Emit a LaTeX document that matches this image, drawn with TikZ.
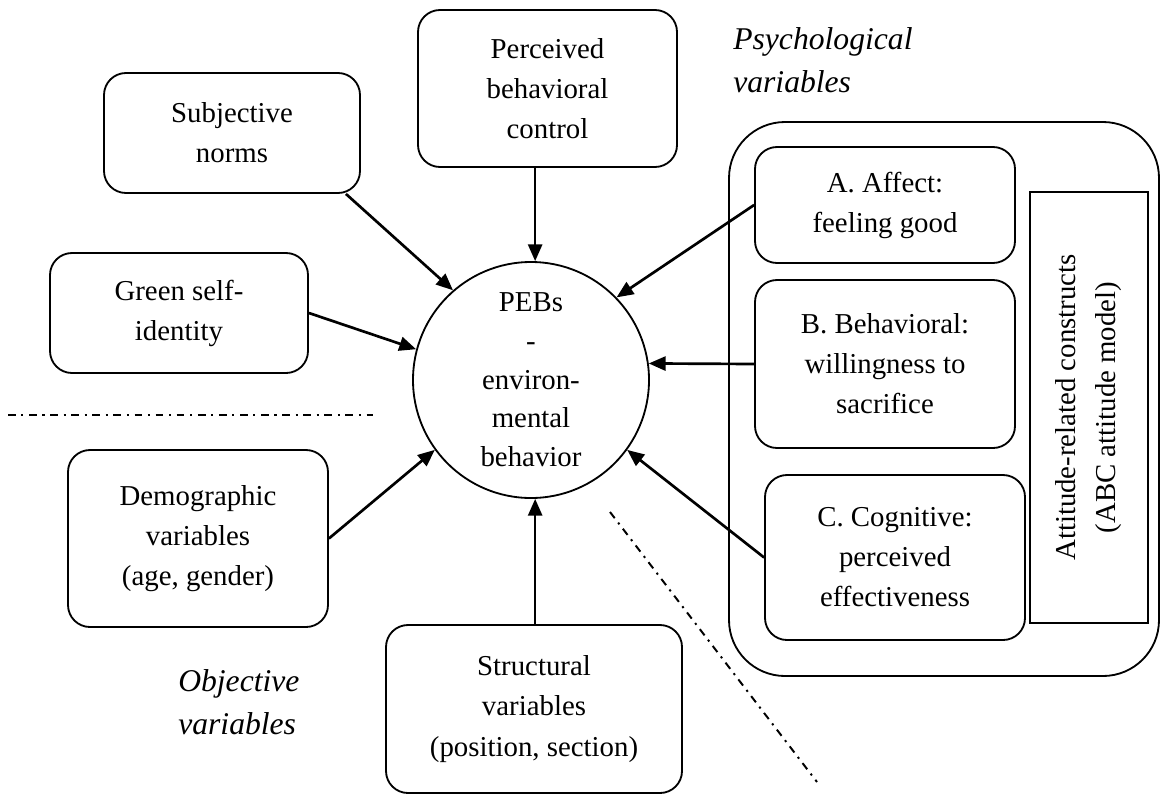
\documentclass[tikz,border=0pt]{standalone}
\usepackage{fontspec}
\setmainfont{Liberation Serif}
\usetikzlibrary{arrows.meta, calc}
\def\px{0.025cm}

\begin{document}
\begin{tikzpicture}[x=\px, y=-\px, >={Triangle[length=12pt,width=10pt]}]

			\tikzstyle{box}=[rectangle, rounded corners=0.55cm, draw=black, line width=1.3pt, inner sep=0pt, align=center, font=\fontsize{20.5}{28.5}\selectfont]
			\tikzstyle{group}=[rectangle, rounded corners=1.4cm, draw=black, line width=1.3pt, inner sep=0pt]
			\tikzstyle{abc}=[rectangle, draw=black, line width=1.3pt, inner sep=0pt, align=center, rotate=90, font=\fontsize{20.5}{28.5}\selectfont]
			\tikzstyle{behav}=[circle, draw=black, line width=1.3pt, inner sep=0pt, align=center, minimum size=236*\px, font=\fontsize{20.5}{27.5}\selectfont]
			\tikzstyle{side}=[anchor=north west, inner sep=0pt, align=left, font=\fontsize{22.5}{30.5}\selectfont\itshape]
			\tikzstyle{sep}=[line width=1.4pt, dash pattern=on 5.5pt off 4pt on 1.5pt off 4pt]

			\useasboundingbox (0,0) rectangle (1161,796);

			\node at (944,399) (attgroup) [group, minimum width=430*\px, minimum height=554*\px] {};

			\node at (547.5,88.5) (pbc) [box, minimum width=259*\px, minimum height=157*\px] {Perceived\\ behavioral\\ control};
			\node at (232,133) (subjnorms) [box, minimum width=256*\px, minimum height=120*\px] {Subjective\\ norms};
			\node at (179,313) (greenid) [box, minimum width=258*\px, minimum height=120*\px] {Green self-\\ identity};
			\node at (198,538.5) (demographic) [box, minimum width=260*\px, minimum height=177*\px] {Demographic\\ variables\\ (age, gender)};
			\node at (534,709) (structural) [box, minimum width=296*\px, minimum height=168*\px] {Structural\\ variables\\ (position, section)};

			\node at (885,205) (affect) [box, minimum width=260*\px, minimum height=116*\px] {A. Affect:\\ feeling good};
			\node at (885,364) (behavioral) [box, minimum width=260*\px, minimum height=168*\px] {B. Behavioral:\\ willingness to\\ sacrifice};
			\node at (895,557.5) (cognitive) [box, minimum width=260*\px, minimum height=165*\px] {C. Cognitive:\\ perceived\\ effectiveness};
			\node at (1089,407.5) (abcmodel) [abc, minimum width=431*\px, minimum height=118*\px] {Attitude-related constructs\\ (ABC attitude model)};

			\node at (531,380) (pebs) [behav] {PEBs\\ -\\ environ-\\ mental\\ behavior};

			\node at (733,27) (psychvar) [side] {Psychological\\ variables};
			\node at (178,669) (objvar) [side] {Objective\\ variables};

			\draw[sep] (8,415) -- (373,415);
			\draw[sep] (610,512) -- (817,782);

			\draw[->, line width=1.9pt] (pbc.south -| pebs.88) -- (pebs.88);
			\draw[->, line width=1.9pt] ($(subjnorms.south east)+(-15,0)$) -- (pebs.131);
			\draw[->, line width=1.9pt] (greenid.east) -- (pebs.165);
			\draw[->, line width=1.9pt] (demographic.east) -- (pebs.216);
			\draw[->, line width=1.9pt] (structural.north -| pebs.272) -- (pebs.272);
			\draw[->, line width=1.9pt] (affect.west) -- (pebs.44);
			\draw[->, line width=1.9pt] (behavioral.west) -- (pebs.8);
			\draw[->, line width=1.9pt] (cognitive.west) -- (pebs.-36);
		\end{tikzpicture}
\end{document}
